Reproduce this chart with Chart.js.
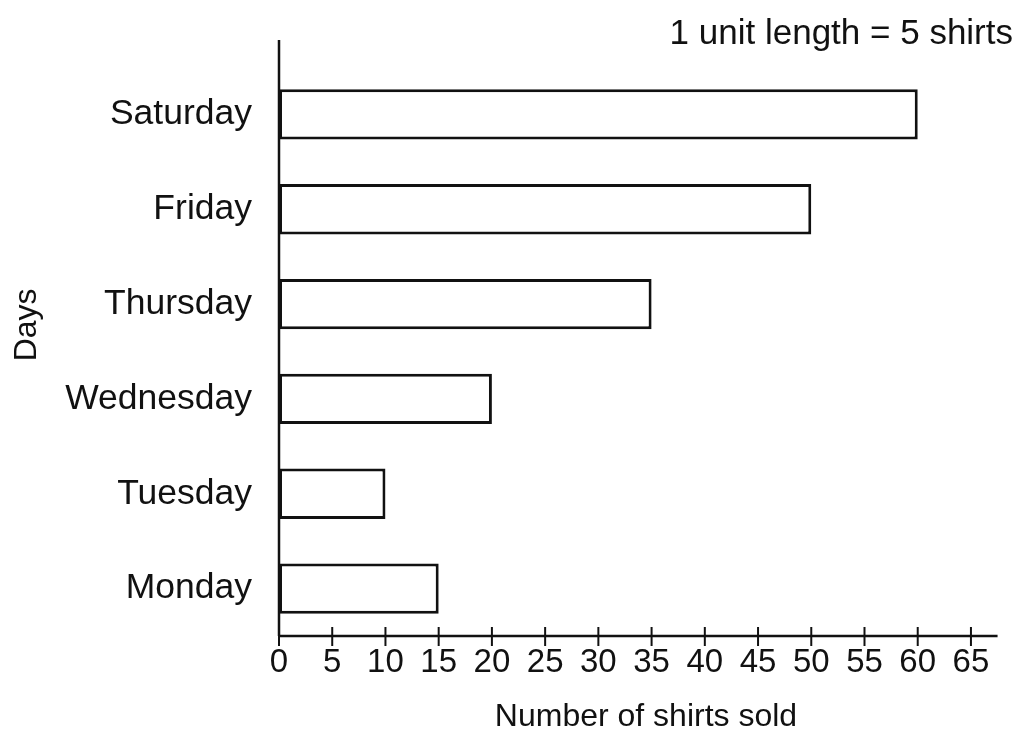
<!DOCTYPE html>
<html>
<head>
<meta charset="utf-8">
<script src="https://cdn.jsdelivr.net/npm/chart.js@4.4.1/dist/chart.umd.min.js"></script>
<style>
  html, body { margin: 0; padding: 0; background: #ffffff; }
  #wrap { width: 1021px; height: 740px; }
</style>
</head>
<body>
<div id="wrap"><canvas id="c" width="1021" height="740"></canvas></div>
<script>
// ---- data ----
const days = ['Saturday', 'Friday', 'Thursday', 'Wednesday', 'Tuesday', 'Monday'];
const shirtsSold = [60, 50, 35, 20, 10, 15];
const titleText = '1 unit length = 5 shirts';
const xAxisTitle = 'Number of shirts sold';
const yAxisTitle = 'Days';
const xTickStep = 5;
const xTickMax = 65;

const FONT = "'Liberation Sans', Arial, Helvetica, sans-serif";
const INK = '#111111';

const axisPlugin = {
  id: 'handAxes',
  afterDraw(chart) {
    const ctx = chart.ctx;
    const xs = chart.scales.x;
    const area = chart.chartArea;
    const x0 = xs.getPixelForValue(0);
    const xEnd = xs.getPixelForValue(xTickMax + xTickStep / 2);
    const yb = area.bottom;
    ctx.save();
    ctx.strokeStyle = INK;
    ctx.lineWidth = 2.5;
    ctx.beginPath();
    ctx.moveTo(x0, yb);
    ctx.lineTo(xEnd, yb);
    ctx.stroke();
    ctx.beginPath();
    ctx.moveTo(x0, area.top - 27);
    ctx.lineTo(x0, yb);
    ctx.stroke();
    ctx.lineWidth = 2;
    xs.ticks.forEach(t => {
      const px = xs.getPixelForValue(t.value);
      ctx.beginPath();
      ctx.moveTo(px, yb - 9);
      ctx.lineTo(px, yb + 10);
      ctx.stroke();
    });
    ctx.restore();
  }
};

new Chart(document.getElementById('c'), {
  type: 'bar',
  data: {
    labels: days,
    datasets: [{
      data: shirtsSold,
      backgroundColor: '#ffffff',
      borderColor: INK,
      borderWidth: 3,
      borderSkipped: false,
      barPercentage: 0.53,
      categoryPercentage: 1.0
    }]
  },
  options: {
    indexAxis: 'y',
    responsive: false,
    animation: false,
    layout: { padding: { left: 0, right: 8, top: 0, bottom: 0 } },
    plugins: {
      legend: { display: false },
      tooltip: { enabled: false },
      title: {
        display: true,
        text: titleText,
        align: 'end',
        color: INK,
        font: { family: FONT, size: 35, weight: 'normal' },
        padding: { top: 13, bottom: 12 }
      }
    },
    scales: {
      x: {
        type: 'linear',
        min: 0,
        max: 68.95,
        grid: { display: false, drawTicks: false },
        border: { display: false },
        ticks: {
          stepSize: xTickStep,
          includeBounds: false,
          padding: 7,
          color: INK,
          maxRotation: 0,
          autoSkip: false,
          font: { family: FONT, size: 33 }
        },
        title: {
          display: true,
          text: xAxisTitle,
          color: INK,
          font: { family: FONT, size: 32 },
          padding: { top: 0, bottom: 4 }
        },
        afterFit(scale) { scale.height = 104; }
      },
      y: {
        type: 'category',
        grid: { display: false, drawTicks: false },
        border: { display: false },
        ticks: {
          padding: 27,
          color: INK,
          font: { family: FONT, size: 35.5 }
        },
        title: {
          display: true,
          text: '      ' + yAxisTitle,
          color: INK,
          font: { family: FONT, size: 32 },
          padding: { top: 8, bottom: 0 }
        },
        afterFit(scale) { scale.width = 279; }
      }
    }
  },
  plugins: [axisPlugin]
});
</script>
</body>
</html>
